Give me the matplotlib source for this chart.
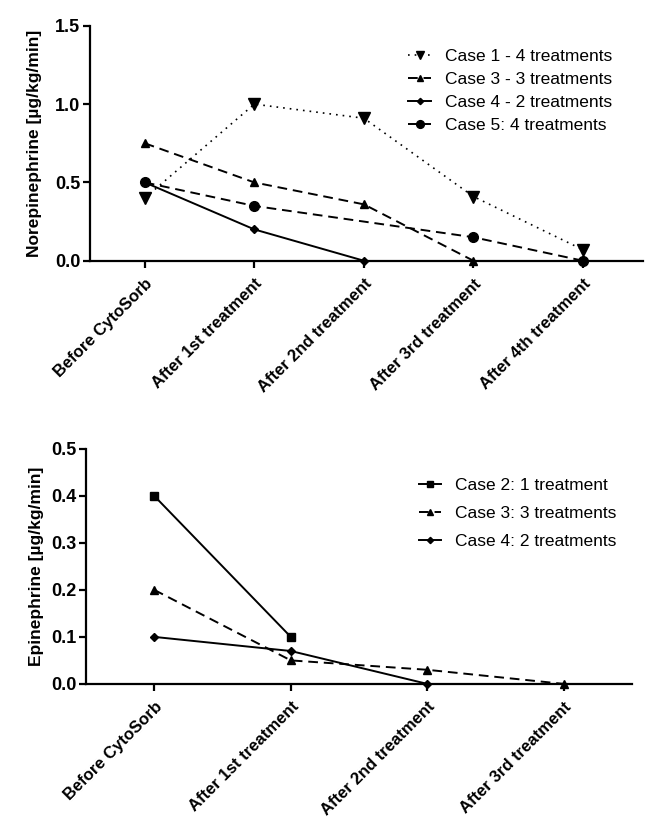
import numpy as np
import matplotlib
matplotlib.use('Agg')
import matplotlib.pyplot as plt

#%% Set matplotlib general parameters
plt.rcParams['font.family'] = 'Liberation Sans'
plt.rcParams['axes.linewidth'] = 1.6
plt.rcParams['xtick.major.width'] = 1.6
plt.rcParams['ytick.major.width'] = 1.6
plt.rcParams['xtick.major.size'] = 5
plt.rcParams['ytick.major.size'] = 5

#%% Data

top_labels = ['Before CytoSorb', 'After 1st treatment', 'After 2nd treatment',
              'After 3rd treatment', 'After 4th treatment']
bottom_labels = top_labels[:4]

# norepinephrine (None = no measurement, line is joined across it)
case1_ne = [0.40, 1.00, 0.91, 0.41, 0.07]
case3_ne = [0.75, 0.50, 0.36, 0.00]
case4_ne = [0.50, 0.20, 0.00]
case5_ne = [0.50, 0.35, None, 0.15, 0.00]

# epinephrine
case2_e = [0.40, 0.10]
case3_e = [0.20, 0.05, 0.03, 0.00]
case4_e = [0.10, 0.07, 0.00]


def series(vals):
    x = [i for i, v in enumerate(vals) if v is not None]
    y = [v for v in vals if v is not None]
    return x, y


def style_axes(ax, labels):
    ax.spines['top'].set_visible(False)
    ax.spines['right'].set_visible(False)
    ax.set_xticks(range(len(labels)))
    ax.set_xticklabels(labels, rotation=45, ha='right', rotation_mode='anchor',
                       fontsize=12, fontweight='bold')
    for t in ax.get_yticklabels():
        t.set_fontsize(13)
        t.set_fontweight('bold')
    ax.tick_params(axis='x', pad=6)
    ax.tick_params(axis='y', pad=2)


fig = plt.figure(figsize=(6.57, 8.33), dpi=100)

#%% Top panel - norepinephrine
ax1 = fig.add_axes([0.137, 0.687, 0.842, 0.282])
x, y = series(case1_ne)
ax1.plot(x, y, color='black', linestyle=(0, (1, 3)), linewidth=1.2, marker='v',
         markersize=8, label='Case 1 - 4 treatments', clip_on=False, zorder=3)
x, y = series(case3_ne)
ax1.plot(x, y, color='black', linestyle=(0, (5, 3)), linewidth=1.4, marker='^',
         markersize=6, label='Case 3 - 3 treatments', clip_on=False, zorder=3)
x, y = series(case4_ne)
ax1.plot(x, y, color='black', linestyle='-', linewidth=1.4, marker='D',
         markersize=4, label='Case 4 - 2 treatments', clip_on=False, zorder=3)
x, y = series(case5_ne)
ax1.plot(x, y, color='black', linestyle=(0, (5, 3)), linewidth=1.4, marker='o',
         markersize=7, label='Case 5: 4 treatments', clip_on=False, zorder=3)
ax1.set_xlim(-0.5, 4.55)
ax1.set_ylim(0, 1.5)
ax1.set_yticks([0.0, 0.5, 1.0, 1.5])
ax1.set_yticklabels(['0.0', '0.5', '1.0', '1.5'])
ax1.set_ylabel('Norepinephrine [µg/kg/min]', fontsize=12.5, fontweight='bold', labelpad=9)
style_axes(ax1, top_labels)
ax1.legend(loc='upper right', bbox_to_anchor=(0.972, 0.968), frameon=False, fontsize=12.5,
           handlelength=1.3, handletextpad=0.8, labelspacing=0.45, markerscale=0.8)

#%% Bottom panel - epinephrine
ax2 = fig.add_axes([0.131, 0.179, 0.831, 0.282])
x, y = series(case2_e)
ax2.plot(x, y, color='black', linestyle='-', linewidth=1.4, marker='s',
         markersize=6, label='Case 2: 1 treatment', clip_on=False, zorder=3)
x, y = series(case3_e)
ax2.plot(x, y, color='black', linestyle=(0, (5, 3)), linewidth=1.4, marker='^',
         markersize=6, label='Case 3: 3 treatments', clip_on=False, zorder=3)
x, y = series(case4_e)
ax2.plot(x, y, color='black', linestyle='-', linewidth=1.4, marker='D',
         markersize=4, label='Case 4: 2 treatments', clip_on=False, zorder=3)
ax2.set_xlim(-0.5, 3.5)
ax2.set_ylim(0, 0.5)
ax2.set_yticks([0.0, 0.1, 0.2, 0.3, 0.4, 0.5])
ax2.set_yticklabels(['0.0', '0.1', '0.2', '0.3', '0.4', '0.5'])
ax2.set_ylabel('Epinephrine [µg/kg/min]', fontsize=12.5, fontweight='bold', labelpad=5)
style_axes(ax2, bottom_labels)
ax2.legend(loc='upper right', bbox_to_anchor=(1.0, 0.945), frameon=False, fontsize=12.5,
           handlelength=1.3, handletextpad=0.8, labelspacing=0.75, markerscale=0.8)

plt.savefig('out.png', dpi=100)
